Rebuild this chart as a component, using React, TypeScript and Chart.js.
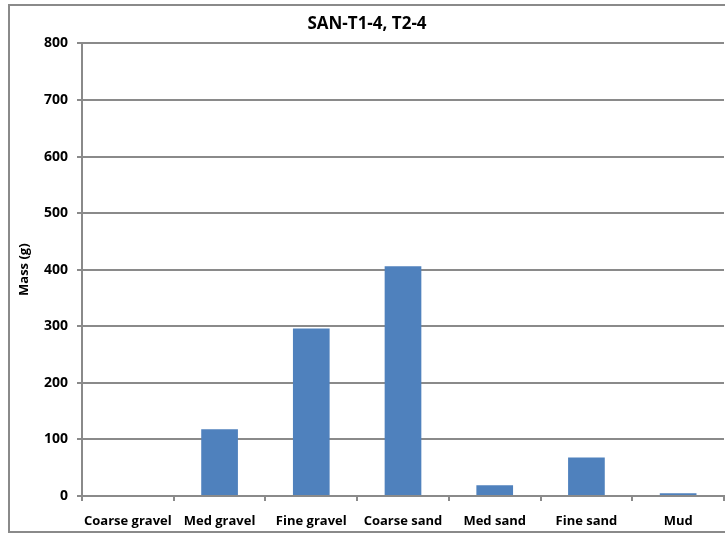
import React, { useEffect, useRef } from "react";
import { Chart, registerables } from "chart.js";

Chart.register(...registerables);

const categories = ["Coarse gravel", "Med gravel", "Fine gravel", "Coarse sand", "Med sand", "Fine sand", "Mud"];
const massValues = [0, 118, 296, 406, 19, 68, 5];
const yTicks = [0, 100, 200, 300, 400, 500, 600, 700, 800];
const chartTitle = "SAN-T1-4, T2-4";
const yAxisTitle = "Mass (g)";

const FONT = "'Open Sans', Lato, sans-serif";

const frame = {
  id: "frame",
  beforeDraw(chart: any) {
    const ctx = chart.ctx;
    ctx.save();
    ctx.fillStyle = "#ffffff";
    ctx.fillRect(0, 0, chart.width, chart.height);
    ctx.strokeStyle = "#8a8a8a";
    ctx.lineWidth = 2;
    ctx.strokeRect(9, 5, 740, 527);
    ctx.restore();
  },
};

export default function App() {
  const ref = useRef<HTMLCanvasElement>(null);
  useEffect(() => {
    if (!ref.current) return;
    const chart = new Chart(ref.current, {
      type: "bar",
      data: {
        labels: categories,
        datasets: [
          {
            data: massValues,
            backgroundColor: "#4F81BD",
            borderWidth: 0,
            categoryPercentage: 1,
            barPercentage: 0.4,
          },
        ],
      },
      options: {
        animation: false,
        responsive: false,
        devicePixelRatio: 1,
        layout: { padding: { left: 10, right: 1, top: 0, bottom: 0 } },
        plugins: {
          legend: { display: false },
          tooltip: { enabled: false },
          title: {
            display: true,
            text: chartTitle,
            color: "#000",
            font: { family: FONT, size: 17, weight: "bold", lineHeight: 1.2 },
            padding: { top: 14, bottom: 9 },
          },
        },
        scales: {
          x: {
            grid: {
              display: true,
              drawOnChartArea: false,
              drawTicks: true,
              tickLength: 5,
              color: "#8a8a8a",
              lineWidth: 2,
              offset: true,
            },
            border: { display: true, color: "#8a8a8a", width: 2 },
            ticks: {
              color: "#000",
              font: { family: FONT, size: 13, weight: "bold" },
              padding: 12,
              maxRotation: 0,
              autoSkip: false,
            },
            afterFit(scale: any) {
              scale.height = 37;
            },
          },
          y: {
            min: 0,
            max: 800,
            afterBuildTicks(scale: any) {
              scale.ticks = yTicks.map((v) => ({ value: v }));
            },
            title: {
              display: true,
              text: yAxisTitle,
              color: "#000",
              font: { family: FONT, size: 13, weight: "bold" },
              padding: { top: 6, bottom: 0 },
            },
            grid: {
              color: "#8a8a8a",
              lineWidth: 2,
              drawTicks: true,
              tickLength: 5,
            },
            border: { display: true, color: "#8a8a8a", width: 2 },
            ticks: {
              color: "#000",
              font: { family: FONT, size: 14, weight: "bold" },
              padding: 9,
            },
            afterFit(scale: any) {
              scale.width = 72;
            },
          },
        },
      },
      plugins: [frame],
    });
    return () => chart.destroy();
  }, []);
  return (
    <div style={{ position: "fixed", left: 0, top: 0, width: 725, height: 533, background: "#fff" }}>
      <canvas ref={ref} width={725} height={533} style={{ display: "block" }} />
    </div>
  );
}
